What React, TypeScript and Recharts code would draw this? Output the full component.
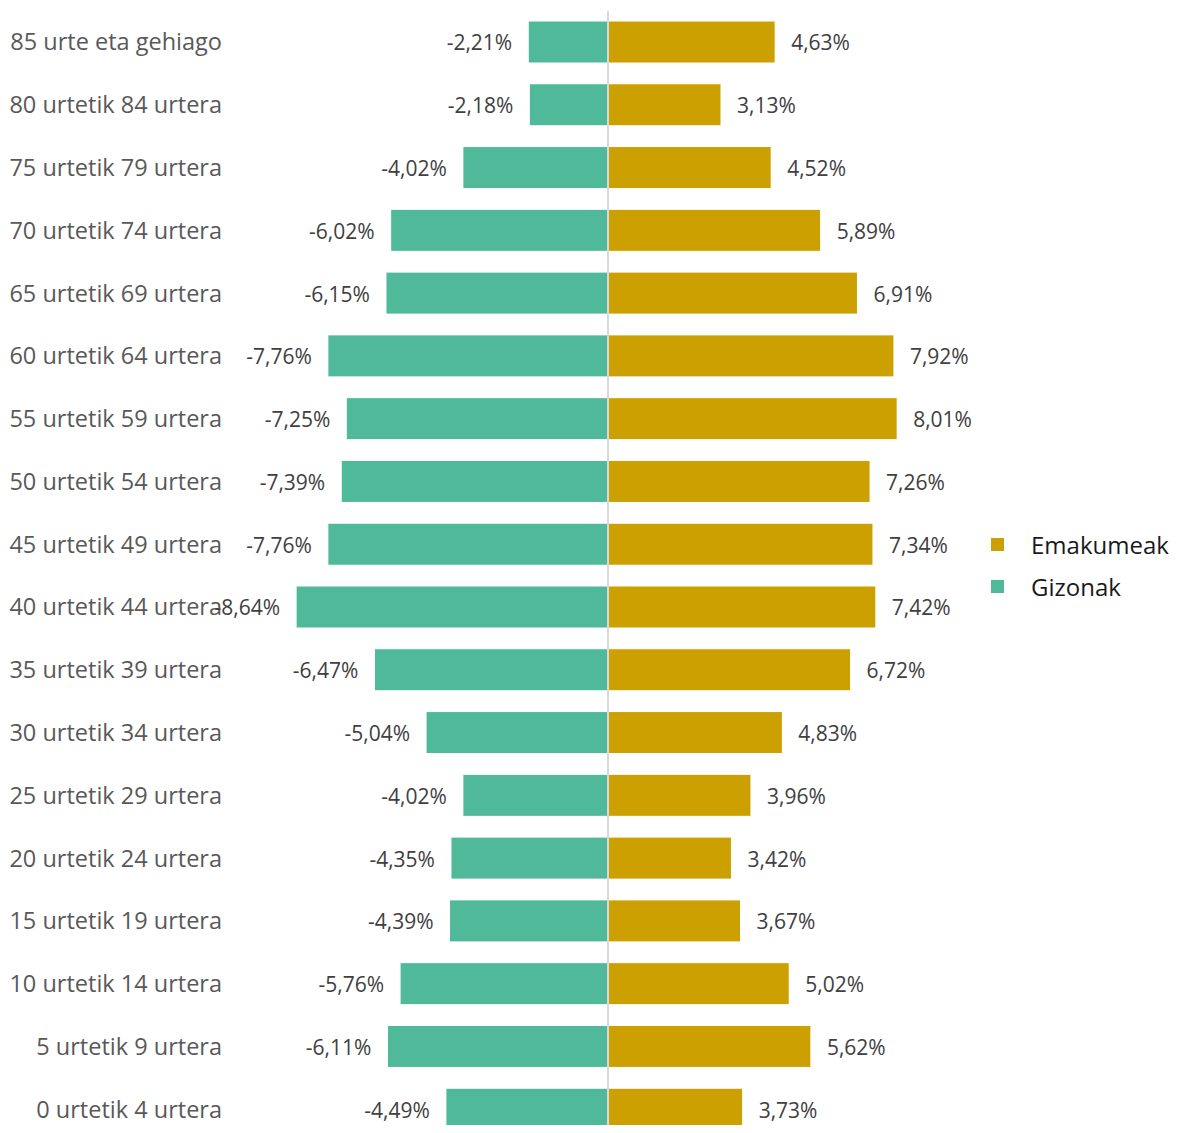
import { Bar, BarChart, LabelList, ReferenceLine, XAxis, YAxis } from "recharts";

const ageGroups = [
  "85 urte eta gehiago",
  "80 urtetik 84 urtera",
  "75 urtetik 79 urtera",
  "70 urtetik 74 urtera",
  "65 urtetik 69 urtera",
  "60 urtetik 64 urtera",
  "55 urtetik 59 urtera",
  "50 urtetik 54 urtera",
  "45 urtetik 49 urtera",
  "40 urtetik 44 urtera",
  "35 urtetik 39 urtera",
  "30 urtetik 34 urtera",
  "25 urtetik 29 urtera",
  "20 urtetik 24 urtera",
  "15 urtetik 19 urtera",
  "10 urtetik 14 urtera",
  "5 urtetik 9 urtera",
  "0 urtetik 4 urtera",
];

const gizonak = [
  -2.21, -2.18, -4.02, -6.02, -6.15, -7.76, -7.25, -7.39, -7.76, -8.64, -6.47, -5.04, -4.02, -4.35,
  -4.39, -5.76, -6.11, -4.49,
];

const emakumeak = [
  4.63, 3.13, 4.52, 5.89, 6.91, 7.92, 8.01, 7.26, 7.34, 7.42, 6.72, 4.83, 3.96, 3.42, 3.67, 5.02,
  5.62, 3.73,
];

const legendItems = [
  { name: "Emakumeak", color: "#cca000" },
  { name: "Gizonak", color: "#50b99a" },
];

const TEAL = "#50b99a";
const GOLD = "#cca000";
const FONT = "'Open Sans', sans-serif";

const data = ageGroups.map((label, i) => ({
  label,
  gizonak: gizonak[i],
  emakumeak: emakumeak[i],
}));

const fmt = (v: any) => Number(v).toFixed(2).replace(".", ",") + "%";

function CategoryTick(props: any) {
  const { y, payload } = props;
  return (
    <text x={222} y={y} dy={8} textAnchor="end" fill="#595959" fontSize={23.5} fontFamily={FONT}>
      {payload.value}
    </text>
  );
}

export default function App() {
  return (
    <div
      style={{
        margin: -8,
        position: "relative",
        height: 1133,
        overflow: "hidden",
        background: "#fff",
      }}
    >
      <BarChart
        width={1179}
        height={1150}
        data={data}
        layout="vertical"
        stackOffset="sign"
        margin={{ top: 11, right: 210, bottom: 9, left: 0 }}
      >
        <XAxis type="number" domain={[-10, 10]} hide allowDataOverflow />
        <YAxis
          type="category"
          dataKey="label"
          width={247}
          axisLine={false}
          tickLine={false}
          tick={<CategoryTick />}
          interval={0}
        />
        <Bar dataKey="gizonak" name="Gizonak" stackId="a" fill={TEAL} stroke="#fff" strokeWidth={1} barSize={42} isAnimationActive={false}>
          <LabelList dataKey="gizonak" position="right" offset={16} formatter={fmt} fill="#404040" fontSize={21} fontFamily={FONT} dy={1} />
        </Bar>
        <Bar dataKey="emakumeak" name="Emakumeak" stackId="a" fill={GOLD} stroke="#fff" strokeWidth={1} barSize={42} isAnimationActive={false}>
          <LabelList dataKey="emakumeak" position="right" offset={16} formatter={fmt} fill="#404040" fontSize={21} fontFamily={FONT} dy={1} />
        </Bar>
        <ReferenceLine x={0} stroke="#d9d9d9" strokeWidth={2} />
      </BarChart>
      <div style={{ position: "absolute", left: 991, top: 523, fontFamily: FONT }}>
        {legendItems.map((it) => (
          <div key={it.name} style={{ display: "flex", alignItems: "center", height: 42, whiteSpace: "nowrap" }}>
            <span style={{ width: 13, height: 13, flex: "none", background: it.color, display: "inline-block" }} />
            <span style={{ marginLeft: 27, fontSize: 24, color: "#1a1a1a" }}>{it.name}</span>
          </div>
        ))}
      </div>
    </div>
  );
}
